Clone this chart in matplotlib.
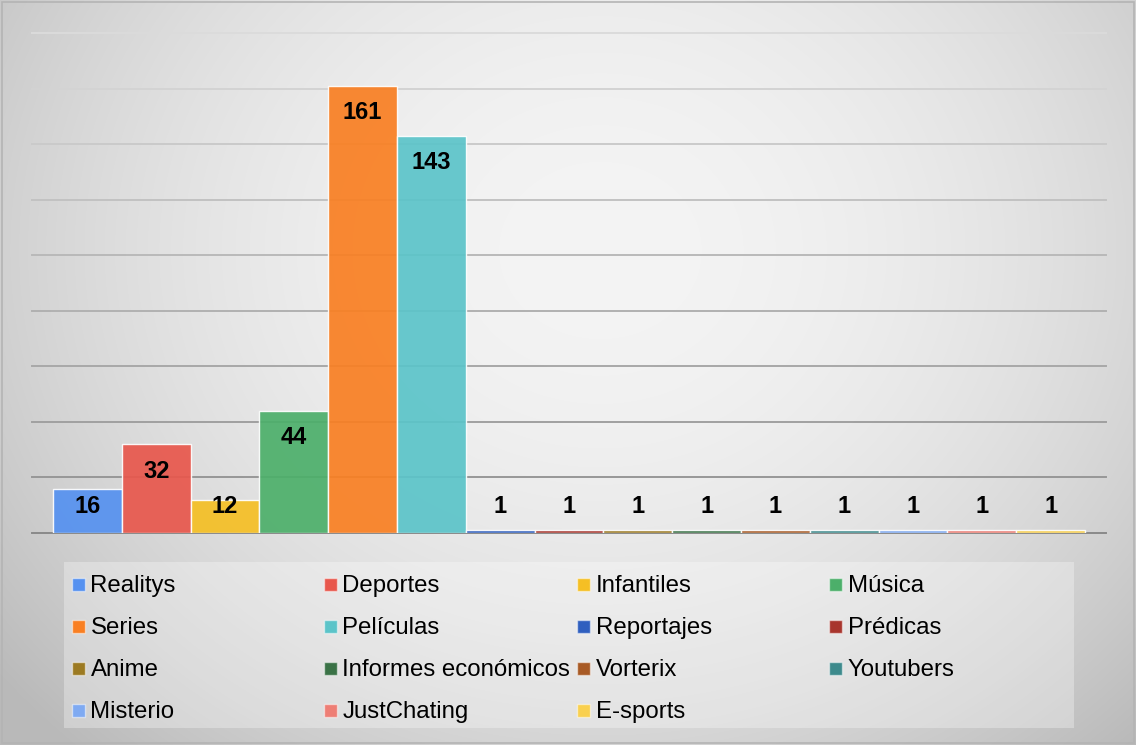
import numpy as np
import matplotlib.pyplot as plt
from matplotlib.patches import Rectangle

plt.rcParams["font.family"] = ["Liberation Sans", "DejaVu Sans"]

categories = ["Realitys", "Deportes", "Infantiles", "Música", "Series", "Películas",
              "Reportajes", "Prédicas", "Anime", "Informes económicos", "Vorterix",
              "Youtubers", "Misterio", "JustChating", "E-sports"]
values = [16, 32, 12, 44, 161, 143, 1, 1, 1, 1, 1, 1, 1, 1, 1]
colors = ["#5591F0", "#E8574C", "#F5BF24", "#4CAF6A", "#F97F22", "#5BC4C9",
          "#2F5FBF", "#A8352D", "#9C7A22", "#3A7246", "#A85A25", "#3D8A8C",
          "#7FAAF2", "#EE7E75", "#F9D04F"]
y_ticks = [0, 20, 40, 60, 80, 100, 120, 140, 160, 180]

W, H = 1136, 745
fig = plt.figure(figsize=(W / 100, H / 100), dpi=100)

# soft radial background
bg = fig.add_axes([0, 0, 1, 1], zorder=-10)
xx, yy = np.meshgrid(np.arange(W), np.arange(H))
d2 = ((xx - 600) / 640.0) ** 2 + ((yy - 250) / 560.0) ** 2
shade = np.clip(244 - 40 * d2, 185, 245) / 255.0
bg.imshow(np.dstack([shade] * 3), aspect="auto", extent=(0, W, H, 0))
bg.set_xlim(0, W)
bg.set_ylim(H, 0)
bg.axis("off")
bg.add_patch(Rectangle((2, 2), W - 4, H - 4, fill=False, edgecolor="#b4b4b4", lw=1.2))

# plot area
ax = fig.add_axes([32 / W, (H - 533) / H, 1074 / W, (533 - 33) / H])
ax.patch.set_alpha(0)
for s in ax.spines.values():
    s.set_visible(False)
ax.set_xlim(-0.805, len(values) - 1 + 0.805)
ax.set_ylim(0, 180)
ax.set_xticks([])
ax.set_yticks([])

# gridlines darken toward the baseline
for t in y_ticks[1:]:
    g = 0.86 - 0.30 * (1 - t / 180.0)
    ax.axhline(t, color=(g, g, g), lw=1.4, zorder=0, clip_on=False)
ax.axhline(0, color="#8a8a8a", lw=1.4, zorder=0, clip_on=False)

x = np.arange(len(values))
ax.bar(x, values, width=1.0, color=colors, alpha=0.92,
       edgecolor=(1, 1, 1, 0.6), linewidth=1.0, zorder=2)

for xi, v in zip(x, values):
    ax.text(xi, max(v - 9.7, 9.4), str(v), ha="center", va="center",
            fontsize=17, fontweight="bold", color="black", zorder=3)

# legend panel, row-major in four columns
bg.add_patch(Rectangle((64, 562), 1010, 166, facecolor=(1, 1, 1, 0.3), edgecolor="none"))
col_x = [72, 324, 577, 829]
row_y = [584.5, 626.5, 668.5, 710.5]
for i, (name, c) in enumerate(zip(categories, colors)):
    r, k = divmod(i, 4)
    bg.add_patch(Rectangle((col_x[k], row_y[r] - 6.5), 13, 13, facecolor=c,
                           edgecolor=(1, 1, 1, 0.5), lw=1))
    bg.text(col_x[k] + 18.5, row_y[r] + 7.5, name, fontsize=17.3, va="baseline",
            ha="left", color="black")

fig.savefig("out.png", dpi=100)
